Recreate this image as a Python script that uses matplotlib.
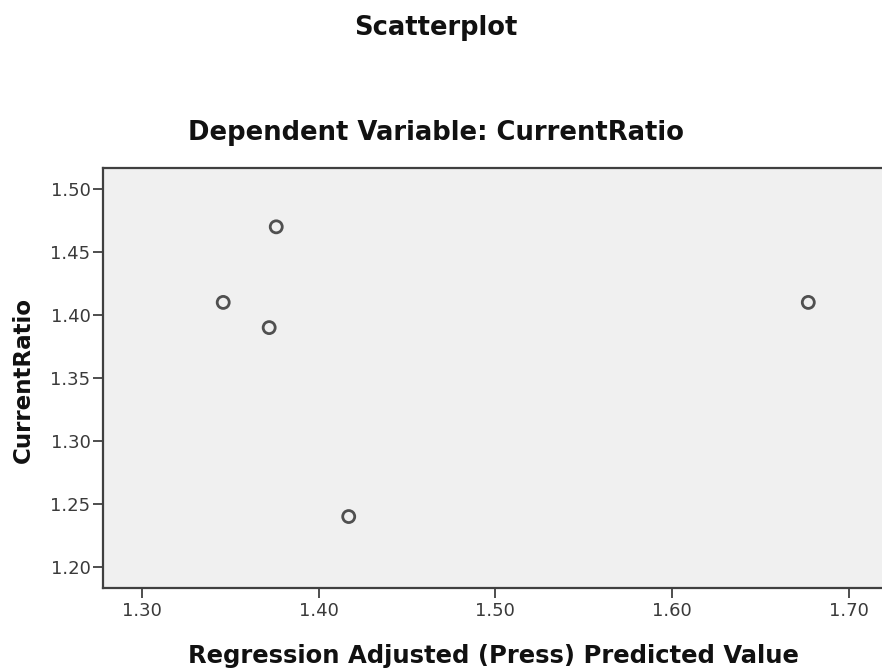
import matplotlib
matplotlib.use("Agg")
import matplotlib.pyplot as plt

# Data
predicted = [1.346, 1.376, 1.372, 1.417, 1.677]
current_ratio = [1.41, 1.47, 1.39, 1.24, 1.41]
x_ticks = [1.30, 1.40, 1.50, 1.60, 1.70]
y_ticks = [1.20, 1.25, 1.30, 1.35, 1.40, 1.45, 1.50]

plt.rcParams['font.family'] = ['DejaVu Sans']

fig = plt.figure(figsize=(8.82, 6.68), dpi=100)
ax = fig.add_axes([0.1168, 0.1198, 0.8832, 0.6287])
ax.set_facecolor('#f0f0f0')

ax.scatter(predicted, current_ratio, s=75, facecolors='none',
           edgecolors='#505050', linewidths=2.0, zorder=3)

ax.set_xlim(1.278, 1.7187)
ax.set_ylim(1.1833, 1.5167)
ax.set_xticks(x_ticks)
ax.set_xticklabels([f"{v:.2f}" for v in x_ticks])
ax.set_yticks(y_ticks)
ax.set_yticklabels([f"{v:.2f}" for v in y_ticks])

for side in ['left', 'top', 'bottom']:
    ax.spines[side].set_color('#404040')
    ax.spines[side].set_linewidth(1.6)
ax.spines['right'].set_visible(False)

ax.tick_params(axis='both', direction='out', length=7, width=1.3,
               color='#404040', labelsize=13, labelcolor='#3a3a3a')
ax.tick_params(axis='y', pad=2)
ax.tick_params(axis='x', pad=3)

fig.text(0.5595, 0.0075, 'Regression Adjusted (Press) Predicted Value',
         ha='center', va='baseline', fontsize=17.5, fontweight='bold',
         color='#111111')
fig.text(0.0267, 0.431, 'CurrentRatio', ha='center', va='center',
         rotation=90, fontsize=16.6, fontweight='bold', color='#111111')

fig.text(0.4943, 0.9476, 'Scatterplot', ha='center', va='baseline',
         fontsize=18.5, fontweight='bold', color='#111111')
fig.text(0.4938, 0.7904, 'Dependent Variable: CurrentRatio', ha='center',
         va='baseline', fontsize=18.6, fontweight='bold', color='#111111')

fig.savefig('out.png', dpi=100, facecolor='white')
